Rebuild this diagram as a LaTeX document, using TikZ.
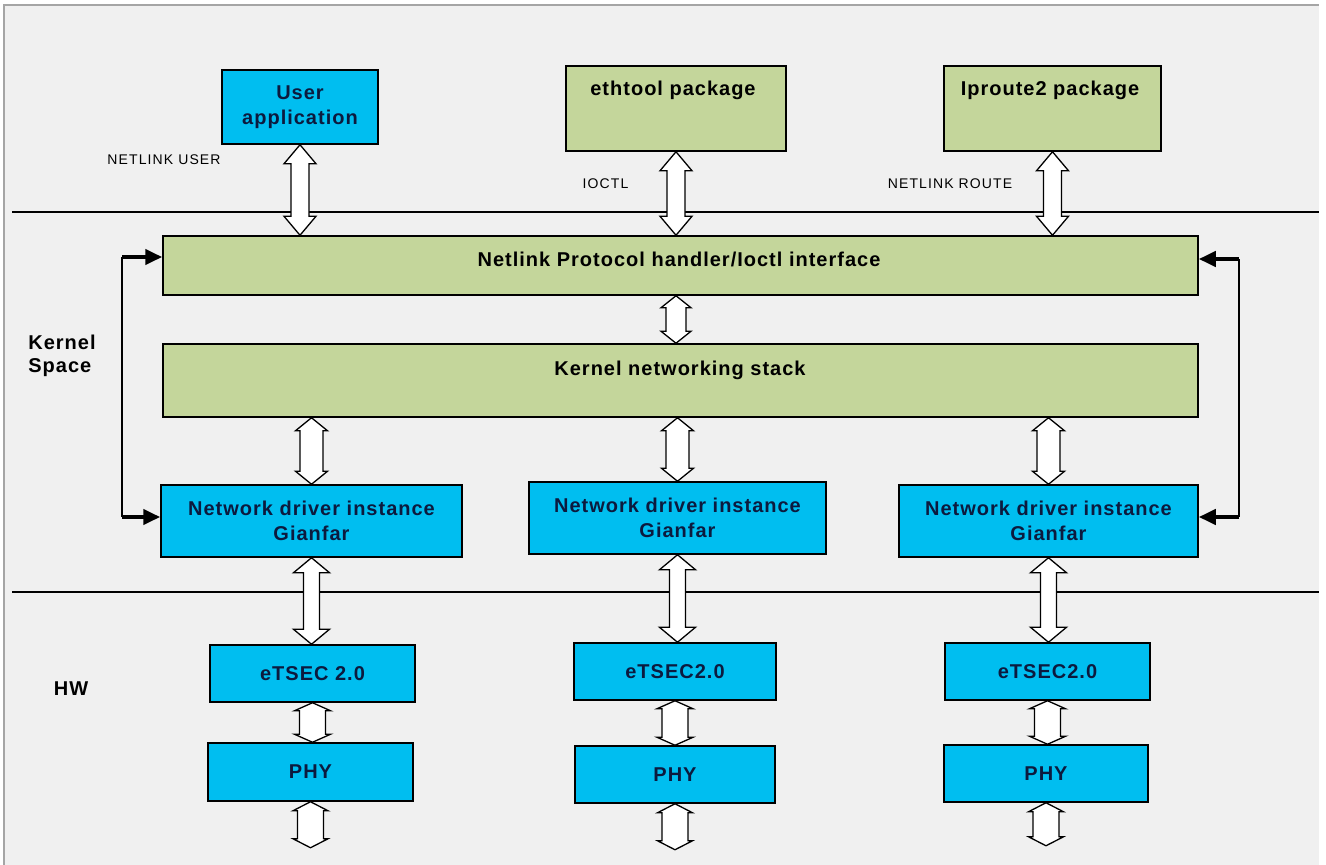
\documentclass[tikz,border=0pt]{standalone}
\usepackage{fontspec}
\setmainfont{Liberation Sans}
\newfontfamily\lblfont{Liberation Sans}[LetterSpace=8]
\newfontfamily\boxfont{Liberation Sans}[LetterSpace=5]
\usetikzlibrary{arrows.meta,calc}
\definecolor{bgc}{RGB}{240,240,240}
\definecolor{framec}{RGB}{165,165,165}
\definecolor{cyanb}{RGB}{0,190,240}
\definecolor{greenb}{RGB}{196,214,155}
\definecolor{navy}{RGB}{12,26,62}
\begin{document}
\begin{tikzpicture}[x=1pt,y=-1pt,
  box/.style={draw=black, line width=1.5pt, inner sep=0pt, align=center},
  cbox/.style={box, fill=cyanb, text=navy, font=\boxfont\bfseries\fontsize{20}{25}\selectfont},
  gbox/.style={box, fill=greenb},
  btxt/.style={font=\boxfont\bfseries\fontsize{20}{25}\selectfont, text=black, inner sep=0pt, anchor=base},
  slbl/.style={font=\lblfont\fontsize{14}{16}\selectfont, text=black, inner sep=0pt, anchor=base},
  side/.style={font=\boxfont\bfseries\fontsize{20}{23}\selectfont, text=black, inner sep=0pt, align=left},
  fat/.style n args={3}{draw=black, fill=white, line width=1.3pt, line join=miter,
    to path={let \p1=(\tikztostart), \p2=(\tikztotarget) in
      (\x1,\y1) -- (\x1-#2,\y1-#3) -- (\x1-#1,\y1-#3) -- (\x1-#1,\y2+#3) -- (\x1-#2,\y2+#3)
      -- (\x1,\y2) -- (\x1+#2,\y2+#3) -- (\x1+#1,\y2+#3) -- (\x1+#1,\y1-#3) -- (\x1+#2,\y1-#3) -- cycle}},
  fbline/.style={draw=black, line width=2pt},
  fbstub/.style={draw=black, line width=4pt, -{Triangle[length=17pt,width=15pt]}},
  sep/.style={draw=black, line width=1.4pt},
]
\useasboundingbox (0,0) rectangle (1326,865);
\fill[white] (0,0) rectangle (1326,865);
\fill[bgc] (4,5) rectangle (1319,865);
\draw[framec, line width=1.2pt] (4,865) -- (4,5) -- (1319,5);

% separators
\coordinate (s1a) at (12,212); \coordinate (s1b) at (1319,212);
\coordinate (s2a) at (12,592); \coordinate (s2b) at (1319,592);
\draw[sep] (s1a) -- (s1b);
\draw[sep] (s2a) -- (s2b);

% user space boxes
\node[cbox, minimum width=156pt, minimum height=74pt] (ua) at (300,107) {User\\application};
\node[gbox, minimum width=220pt, minimum height=85pt] (eth) at (676,108.5) {};
\node[btxt] (ethT) at (673,95) {ethtool package};
\node[gbox, minimum width=217pt, minimum height=85pt] (ipr) at (1052.5,108.5) {};
\node[btxt] (iprT) at (1050,95) {Iproute2 package};

% kernel boxes
\node[gbox, minimum width=1035pt, minimum height=59pt] (nl) at (680.5,265.5) {};
\node[btxt] (nlT) at (679,266) {Netlink Protocol handler/Ioctl interface};
\node[gbox, minimum width=1035pt, minimum height=73pt] (ks) at (680.5,380.5) {};
\node[btxt] (ksT) at (680,375) {Kernel networking stack};

\node[cbox, minimum width=301pt, minimum height=72pt] (d1) at (311.5,521) {Network driver instance\\Gianfar};
\node[cbox, minimum width=297pt, minimum height=72pt] (d2) at (677.5,518) {Network driver instance\\Gianfar};
\node[cbox, minimum width=299pt, minimum height=72pt] (d3) at (1048.5,521) {Network driver instance\\Gianfar};

% hardware boxes
\node[cbox, minimum width=205pt, minimum height=57pt] (e1) at (312.5,673.5) {eTSEC 2.0};
\node[cbox, minimum width=202pt, minimum height=57pt] (e2) at (675,671.5) {eTSEC2.0};
\node[cbox, minimum width=205pt, minimum height=57pt] (e3) at (1047.5,671.5) {eTSEC2.0};
\node[cbox, minimum width=205pt, minimum height=58pt] (p1) at (310.5,772) {PHY};
\node[cbox, minimum width=200pt, minimum height=57pt] (p2) at (675,774.5) {PHY};
\node[cbox, minimum width=204pt, minimum height=57pt] (p3) at (1046,773.5) {PHY};

% labels
\node[slbl] (lnu) at (164,164) {NETLINK USER};
\node[slbl] (lio) at (605.5,188) {IOCTL};
\node[slbl] (lnr) at (950,188) {NETLINK ROUTE};
\node[side] (lks) at (62,356) {Kernel\\Space};
\node[side] (lhw) at (71,689) {HW};

% fat double arrows: user space <-> netlink
\draw[fat={9pt}{16pt}{19pt}] (ua.south) to (ua.south |- nl.north);
\draw[fat={9pt}{16pt}{19pt}] (eth.south) to (eth.south |- nl.north);
\draw[fat={9pt}{16pt}{19pt}] (ipr.south) to (ipr.south |- nl.north);
% netlink <-> stack
\draw[fat={10pt}{15pt}{12pt}] (nl.south -| eth.south) to (ks.north -| eth.south);
% stack <-> drivers
\draw[fat={11.5pt}{16pt}{13pt}] (ks.south -| d1.north) to (d1.north);
\draw[fat={11.5pt}{16pt}{13pt}] (ks.south -| d2.north) to (d2.north);
\draw[fat={11.5pt}{16pt}{13pt}] (ks.south -| d3.north) to (d3.north);
% drivers <-> eTSEC
\draw[fat={8pt}{18pt}{15pt}] (d1.south) to (d1.south |- e1.north);
\draw[fat={8pt}{18pt}{15pt}] (d2.south) to (d2.south |- e2.north);
\draw[fat={8pt}{18pt}{15pt}] (d3.south) to (d3.south |- e3.north);
% eTSEC <-> PHY
\draw[fat={13pt}{18pt}{8pt}] (e1.south) to (e1.south |- p1.north);
\draw[fat={13pt}{18pt}{8pt}] (e2.south) to (e2.south |- p2.north);
\draw[fat={13pt}{18pt}{8pt}] (e3.south) to (e3.south |- p3.north);
% PHY <-> outside
\coordinate (o1) at ([yshift=-46pt]p1.south);
\coordinate (o2) at ([yshift=-46pt]p2.south);
\coordinate (o3) at ([yshift=-43pt]p3.south);
\draw[fat={13pt}{17.5pt}{9pt}] (p1.south) to (o1);
\draw[fat={13pt}{17.5pt}{9pt}] (p2.south) to (o2);
\draw[fat={13pt}{17.5pt}{9pt}] (p3.south) to (o3);

% feedback arrows
\coordinate (lt) at (122,257); \coordinate (lb) at (122,517);
\coordinate (rt) at (1239,259); \coordinate (rb) at (1239,517);
\draw[fbline] (lt) -- (lb);
\draw[fbline] (rt) -- (rb);
\draw[fbstub] (lt) -- (lt -| nl.west);
\draw[fbstub] (lb) -- (lb -| d1.west);
\draw[fbstub] (rt) -- (rt -| nl.east);
\draw[fbstub] (rb) -- (rb -| d3.east);
\end{tikzpicture}
\end{document}
